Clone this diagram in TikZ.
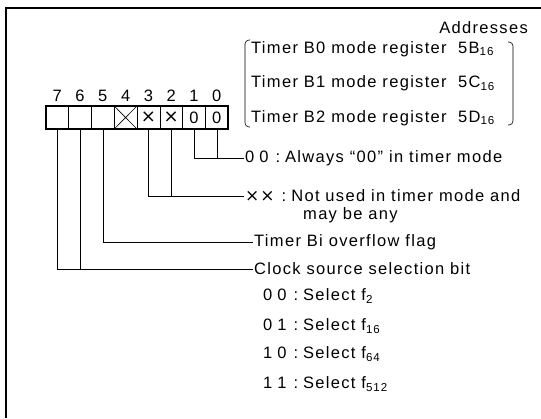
\documentclass[tikz,border=0pt]{standalone}
\usepackage{fontspec}
\setmainfont[LetterSpace=8]{Liberation Sans}
\newfontfamily\crossfont{DejaVu Sans}
\newcommand\bitpair[2]{#1\hspace{5pt}#2\hspace{7pt}:\hspace{5pt}}
\usetikzlibrary{calc}

\begin{document}
\begin{tikzpicture}[
  x=1pt, y=-1pt,
  font=\fontsize{16.5}{18}\selectfont,
  bitcell/.style={draw, line width=0.6pt, minimum width=22.8pt, minimum height=23pt, inner sep=0pt, outer sep=0pt},
  bitnum/.style={inner sep=0pt},
  txt/.style={anchor=west, inner sep=1pt},
  lead/.style={line width=0.6pt},
  frame/.style={line width=2.6pt}
]
\useasboundingbox (0,0) rectangle (541,418);
\draw[frame] (541,8) -- (6,8) -- (6,418);

\foreach \b/\v [count=\i from 0] in {7/{},6/{},5/{},4/{},3/{\crossfont\fontsize{18}{18}\selectfont ×},2/{\crossfont\fontsize{18}{18}\selectfont ×},1/0,0/0} {
  \node[bitcell] (c\b) at (57.2+22.8*\i,117.5) {\v};
  \node[bitnum] (n\b) at (57.2+22.8*\i,96) {\b};
}
\draw[line width=1.8pt] (c7.north west) rectangle (c0.south east);
\draw[lead] (c4.north west) -- (c4.south east) (c4.north east) -- (c4.south west);

\node[anchor=east, inner sep=0pt] (addr) at (528,28) {Addresses};
\node[txt] (r0) at (250,49) {Timer B0 mode register};
\node[txt] (r1) at (250,83) {Timer B1 mode register};
\node[txt] (r2) at (250,118) {Timer B2 mode register};
\node[txt] (a0) at (457,49) {5B\textsubscript{16}};
\node[txt] (a1) at (457,83) {5C\textsubscript{16}};
\node[txt] (a2) at (457,118) {5D\textsubscript{16}};
\draw[lead, rounded corners=4pt] (250,40) -- (245,40) -- (245,127) -- (250,127);
\draw[lead, rounded corners=4pt] (508,42) -- (513,42) -- (513,125) -- (508,125);

\node[txt] (t00) at (244,158) {\bitpair{0}{0}Always “00” in timer mode};
\node[txt] (txx) at (244,196) {{\crossfont\fontsize{17}{17}\selectfont ×\hspace{1pt}×}\hspace{7pt}:\hspace{5pt}Not used in timer mode and};
\node[txt] (txx2) at (302,215) {may be any};
\node[txt] (tovf) at (253,242) {Timer Bi overflow flag};
\node[txt] (tclk) at (253,269) {Clock source selection bit};
\node[txt] (s00) at (262,296) {\bitpair{0}{0}Select f\textsubscript{2}};
\node[txt] (s01) at (262,326) {\bitpair{0}{1}Select f\textsubscript{16}};
\node[txt] (s10) at (262,354) {\bitpair{1}{0}Select f\textsubscript{64}};
\node[txt] (s11) at (262,384) {\bitpair{1}{1}Select f\textsubscript{512}};

\draw[lead] (c1.south) |- (t00.west);
\draw[lead] (c0.south) -- (c0.south |- t00.west);
\draw[lead] (c3.south) |- (txx.west);
\draw[lead] (c2.south) -- (c2.south |- txx.west);
\draw[lead] (c5.south) |- (tovf.west);
\draw[lead] (c7.south) |- (tclk.west);
\draw[lead] (c6.south) -- (c6.south |- tclk.west);
\end{tikzpicture}
\end{document}
